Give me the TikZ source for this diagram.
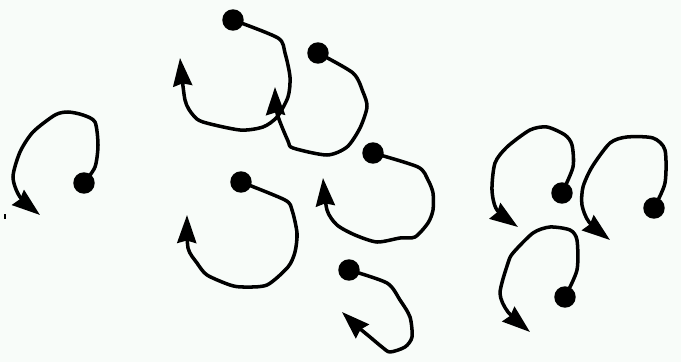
\documentclass[tikz,border=0pt]{standalone}
\usetikzlibrary{arrows.meta}
\definecolor{mPaper}{HTML}{F8FCF9}

\begin{document}
\begin{tikzpicture}[x=0.02cm, y=-0.02cm,
      dot/.style={circle, fill=black, inner sep=0pt, minimum size=0.43cm},
      curl/.style={line width=2pt, line join=round,
        -{Stealth[length=0.56cm, width=0.38cm, inset=0.05cm]}}]
    \fill[mPaper] (0,0) rectangle (681,362);
    \useasboundingbox (0,0) rectangle (681,362);
    % the small tick at the left edge
    \draw[line width=1pt] (5,214) -- (5,219);
    \foreach \n/\x/\y in {a/84/183, b/233/20, c/318/53, d/241/182, e/373/153,
        f/349/270, g/562/193, h/654/208, k/565/297}
      \node[dot] (\n) at (\x,\y) {};
    % left group
    \draw[curl] plot[smooth, tension=0.45] coordinates {(a.center) (95,167) (98,145)
      (95,122) (83,115) (68,112) (55,115) (33,132) (20,152) (13,177) (20,197) (40,215)};
    % middle group
    \draw[curl] plot[smooth, tension=0.45] coordinates {(b.center) (278,38) (285,53)
      (290,77) (288,97) (277,117) (263,127) (240,130) (203,122) (193,115) (185,100)
      (180,58)};
    \draw[curl] plot[smooth, tension=0.45] coordinates {(c.center) (353,73) (363,92)
      (367,107) (360,128) (347,147) (327,155) (293,148) (288,141) (277,113) (275,87)};
    \draw[curl] plot[smooth, tension=0.45] coordinates {(d.center) (285,200) (292,210)
      (297,233) (295,252) (288,267) (267,285) (243,287) (230,285) (207,275)
      (197,263) (188,248) (187,215)};
    \draw[curl] plot[smooth, tension=0.45] coordinates {(e.center) (418,167) (428,180)
      (433,193) (433,210) (428,223) (415,237) (400,238) (377,242) (355,235)
      (337,225) (327,210) (323,178)};
    \draw[curl] plot[smooth, tension=0.45] coordinates {(f.center) (387,283) (400,300)
      (410,317) (412,337) (405,347) (390,352) (382,347) (370,337) (358,327) (342,312)};
    % right group
    \draw[curl] plot[smooth, tension=0.45] coordinates {(g.center) (573,167) (572,145)
      (565,135) (547,127) (530,130) (507,147) (495,163) (492,190) (497,210) (518,227)};
    \draw[curl] plot[smooth, tension=0.45] coordinates {(h.center) (665,183) (665,150)
      (653,138) (627,137) (610,143) (592,167) (583,187) (582,205) (589,222) (610,240)};
    \draw[curl] plot[smooth, tension=0.45] coordinates {(k.center) (577,270) (577,240)
      (570,230) (550,227) (533,233) (513,253) (508,263) (500,293) (508,312) (530,332)};
  \end{tikzpicture}
\end{document}
